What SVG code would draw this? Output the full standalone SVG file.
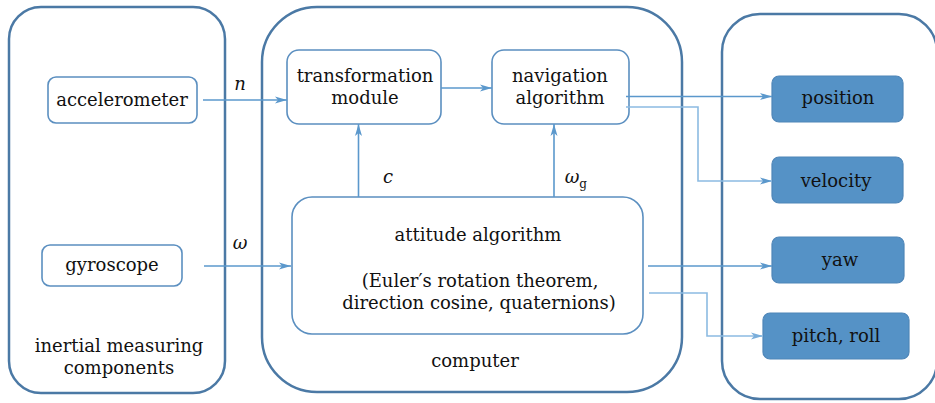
<svg xmlns="http://www.w3.org/2000/svg" width="935" height="403" viewBox="0 0 935 403">
<defs>
<marker id="ah" viewBox="0 0 12 8" refX="12" refY="4" markerWidth="12" markerHeight="8" markerUnits="userSpaceOnUse" orient="auto">
<path d="M0,0.5 L12,4 L0,7.5 L3,4 Z" fill="#5b98cc"/>
</marker>
<marker id="ahl" viewBox="0 0 12 8" refX="12" refY="4" markerWidth="12" markerHeight="8" markerUnits="userSpaceOnUse" orient="auto">
<path d="M0,0.5 L12,4 L0,7.5 L3,4 Z" fill="#7aaedb"/>
</marker>
</defs>
<style>
.cont{fill:#fff;stroke:#4b79a5;stroke-width:2.5}
.box{fill:#fff;stroke:#5b8fc0;stroke-width:1.6}
.out{fill:#5592c6;stroke:#4f86b8;stroke-width:1.2}
text{font-family:"DejaVu Serif","Liberation Serif",serif;font-size:18px;fill:#111;text-anchor:middle}
.it{font-style:italic}
.c{fill:none;stroke:#5b98cc;stroke-width:1.6}
.cl{fill:none;stroke:#8cbbe2;stroke-width:1.6}
</style>
<g id="imu">
<rect class="cont" x="9" y="7" width="216" height="386" rx="32"/>
<text x="119" y="352">inertial measuring</text>
<text x="119" y="374">components</text>
</g>
<g id="computer">
<rect class="cont" x="262" y="7" width="420" height="385" rx="55"/>
<text x="475" y="367">computer</text>
</g>
<g id="outputs">
<rect class="cont" x="722" y="14" width="215" height="385" rx="38"/>
</g>
<g id="accelerometer">
<rect class="box" x="48" y="77" width="149" height="46" rx="8"/>
<text x="122" y="106">accelerometer</text>
</g>
<g id="gyroscope">
<rect class="box" x="42" y="245" width="140" height="41" rx="8"/>
<text x="112" y="271">gyroscope</text>
</g>
<g id="transformation">
<rect class="box" x="287" y="50" width="154" height="74" rx="12"/>
<text x="365" y="82">transformation</text>
<text x="365" y="104">module</text>
</g>
<g id="navigation">
<rect class="box" x="492" y="50" width="137" height="74" rx="12"/>
<text x="560" y="82">navigation</text>
<text x="560" y="104">algorithm</text>
</g>
<g id="attitude">
<rect class="box" x="292" y="197" width="351" height="137" rx="20"/>
<text x="478" y="241">attitude algorithm</text>
<text x="480" y="287">(Euler′s rotation theorem,</text>
<text x="479" y="309">direction cosine, quaternions)</text>
</g>
<g id="position">
<rect class="out" x="772" y="76" width="131" height="46" rx="7"/>
<text x="838" y="104">position</text>
</g>
<g id="velocity">
<rect class="out" x="772" y="157" width="131" height="46" rx="7"/>
<text x="836" y="187">velocity</text>
</g>
<g id="yaw">
<rect class="out" x="772" y="237" width="132" height="46" rx="7"/>
<text x="840" y="266">yaw</text>
</g>
<g id="pitchroll">
<rect class="out" x="763" y="313" width="146" height="46" rx="7"/>
<text x="836" y="342">pitch, roll</text>
</g>
<g id="connectors">
<path class="c" d="M203,100 H287" marker-end="url(#ah)"/>
<path class="c" d="M204,266 H291" marker-end="url(#ah)"/>
<path class="c" d="M441,88 H492" marker-end="url(#ah)"/>
<path class="c" d="M358.5,197 V124" marker-end="url(#ah)"/>
<path class="c" d="M554,197 V124" marker-end="url(#ah)"/>
<path class="c" d="M626,96.5 H772" marker-end="url(#ah)"/>
<path class="cl" d="M626,107 H698 V181 H772" marker-end="url(#ah)"/>
<path class="c" d="M648,266 H772" marker-end="url(#ah)"/>
<path class="cl" d="M649,293 H707 V336 H763" marker-end="url(#ahl)"/>
<text class="it" x="240" y="90">n</text>
<text class="it" x="240" y="249">ω</text>
<text class="it" x="388" y="183">c</text>
<text class="it" x="572" y="183">ω</text>
<text x="583" y="188" style="font-size:12px">g</text>
</g>
</svg>
